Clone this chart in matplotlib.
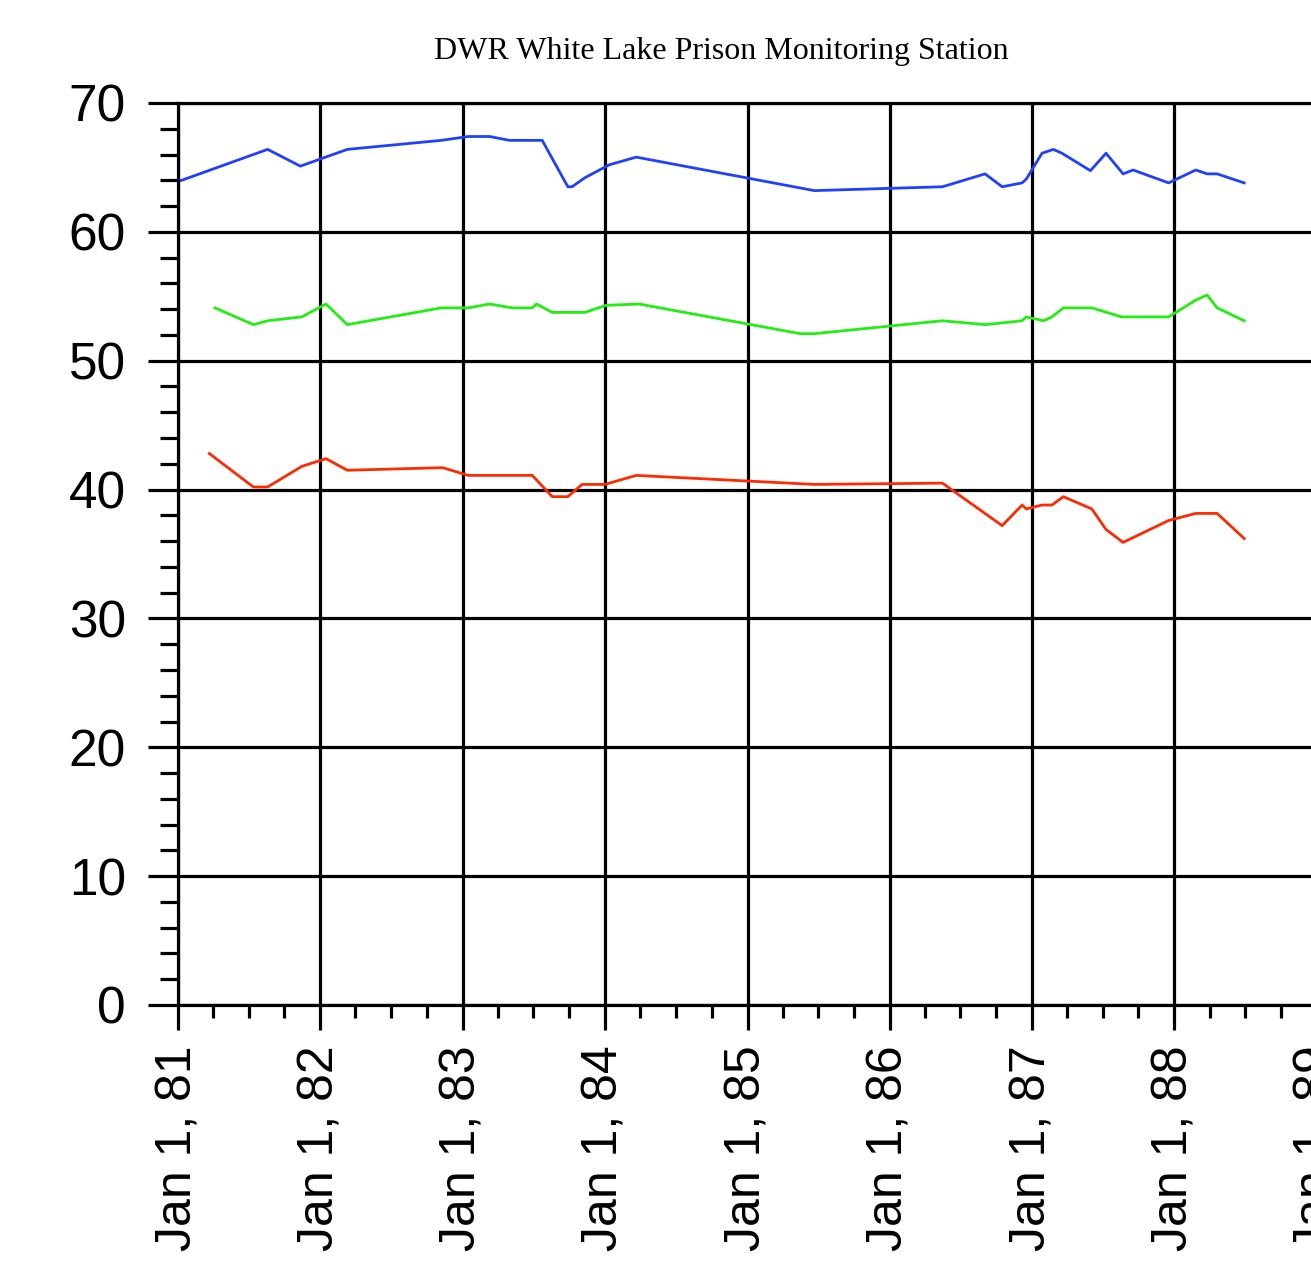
import datetime as dt
import matplotlib
matplotlib.use('Agg')
import matplotlib.pyplot as plt
import matplotlib.dates as mdates

# decimal years
blue_t = [1981.00, 1981.63, 1981.86, 1982.19, 1982.85, 1983.04, 1983.19, 1983.33, 1983.56,
          1983.74, 1983.77, 1983.86, 1984.03, 1984.22, 1985.47, 1986.37, 1986.67, 1986.79,
          1986.93, 1986.96, 1987.07, 1987.15, 1987.21, 1987.41, 1987.52, 1987.64, 1987.71,
          1987.96, 1988.15, 1988.23, 1988.30, 1988.49]
blue_v = [63.9, 66.4, 65.1, 66.4, 67.1, 67.4, 67.4, 67.1, 67.1,
          63.5, 63.5, 64.2, 65.2, 65.8, 63.2, 63.5, 64.5, 63.5,
          63.8, 64.1, 66.1, 66.4, 66.1, 64.75, 66.1, 64.5, 64.8,
          63.8, 64.8, 64.5, 64.5, 63.8]

green_t = [1981.26, 1981.53, 1981.63, 1981.87, 1982.04, 1982.19, 1982.85, 1983.04, 1983.19,
           1983.35, 1983.49, 1983.52, 1983.63, 1983.86, 1984.01, 1984.24, 1985.37, 1985.47,
           1986.37, 1986.67, 1986.93, 1986.96, 1987.08, 1987.14, 1987.22, 1987.42, 1987.63,
           1987.71, 1987.96, 1988.15, 1988.23, 1988.30, 1988.49]
green_v = [54.1, 52.8, 53.1, 53.4, 54.4, 52.8, 54.1, 54.1, 54.4,
           54.1, 54.1, 54.4, 53.75, 53.75, 54.3, 54.4, 52.1, 52.1,
           53.1, 52.8, 53.1, 53.4, 53.1, 53.4, 54.1, 54.1, 53.4,
           53.4, 53.4, 54.7, 55.1, 54.1, 53.1]

red_t = [1981.22, 1981.53, 1981.63, 1981.87, 1982.04, 1982.19, 1982.86, 1983.04, 1983.33,
         1983.49, 1983.63, 1983.74, 1983.84, 1984.00, 1984.22, 1985.47, 1986.37, 1986.79,
         1986.93, 1986.96, 1987.07, 1987.14, 1987.22, 1987.42, 1987.52, 1987.64, 1987.96,
         1988.15, 1988.30, 1988.49]
red_v = [42.8, 40.2, 40.2, 41.8, 42.4, 41.5, 41.7, 41.1, 41.1,
         41.1, 39.45, 39.45, 40.4, 40.4, 41.1, 40.4, 40.5, 37.2,
         38.8, 38.5, 38.8, 38.8, 39.45, 38.5, 36.9, 35.9, 37.6,
         38.15, 38.15, 36.2]

years = list(range(1981, 1990))
xlabels = ['Jan 1, %02d' % (y % 100) for y in years]
yticks = [0, 10, 20, 30, 40, 50, 60, 70]


def to_date(t):
    y = int(t)
    start = dt.datetime(y, 1, 1)
    end = dt.datetime(y + 1, 1, 1)
    return start + (end - start) * (t - y)


fig = plt.figure(figsize=(13.11, 12.74), dpi=100)
ax = fig.add_axes([178/1311, 1 - 1005/1274, 1139/1311, 902/1274])

for tt, vv, c in [(blue_t, blue_v, '#2040ff'), (green_t, green_v, '#22ee11'), (red_t, red_v, '#ff2a00')]:
    ax.plot([to_date(t) for t in tt], vv, color=c, lw=2)

ax.set_ylim(0, 70)
ax.set_xlim(dt.datetime(1981, 1, 1), dt.datetime(1989, 1, 1))
ax.set_yticks(yticks)
ax.set_yticks(range(0, 71, 2), minor=True)
ax.set_xticks([dt.datetime(y, 1, 1) for y in years])
ax.set_xticklabels(xlabels, rotation=90, fontsize=36, family='Liberation Sans')
ax.xaxis.set_minor_locator(mdates.MonthLocator(bymonth=[4, 7, 10]))
for lab in ax.get_yticklabels():
    lab.set_fontsize(37)
    lab.set_family('Liberation Sans')

ax.grid(True, which='major', color='black', lw=2.3)
ax.tick_params(axis='y', which='major', length=21.6, width=2.3, pad=16)
ax.tick_params(axis='y', which='minor', length=13, width=2.3)
ax.tick_params(axis='x', which='major', length=18, width=2.3, pad=11)
ax.tick_params(axis='x', which='minor', length=9.4, width=2.3)
for s in ax.spines.values():
    s.set_linewidth(2.3)

fig.text(721/1311, 1 - 52/1274, 'DWR White Lake Prison Monitoring Station',
         ha='center', va='center', fontsize=23, family='Liberation Serif')

fig.savefig('out.png', dpi=100)
